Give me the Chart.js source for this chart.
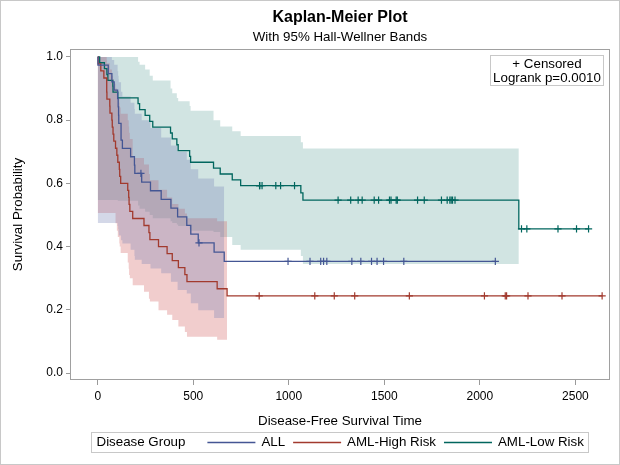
<!DOCTYPE html>
<html>
<head>
<meta charset="utf-8">
<title>Kaplan-Meier Plot</title>
<script src="https://cdn.jsdelivr.net/npm/chart.js@4.4.0/dist/chart.umd.min.js"></script>
<style>
  html, body { margin: 0; padding: 0; background: #fff; }
  canvas { display: block; }
</style>
</head>
<body>
<canvas id="kmChart" width="620" height="465"></canvas>
<script>
// axis ticks
const xTicks = [0, 500, 1000, 1500, 2000, 2500];
const yTicks = [0, 0.2, 0.4, 0.6, 0.8, 1.0];

// ALL: survival steps, censored marks, Hall-Wellner band
const allTimes = [0, 1, 55, 74, 86, 104, 107, 109, 110, 122, 129, 172, 192, 194, 230, 276, 332, 383, 418, 466, 487, 526, 609, 662, 2081];
const allSurv = [1, 0.9737, 0.9474, 0.9211, 0.8947, 0.8684, 0.8421, 0.8158, 0.7895, 0.7368, 0.7105, 0.6842, 0.6579, 0.6316, 0.6041, 0.5767, 0.5492, 0.5217, 0.4943, 0.4668, 0.4394, 0.4119, 0.3825, 0.3531, 0.3531];
const allCensTimes = [226, 530, 996, 1111, 1167, 1182, 1199, 1330, 1377, 1433, 1462, 1496, 1602, 2081];
const allCensSurv = [0.6316, 0.4119, 0.3531, 0.3531, 0.3531, 0.3531, 0.3531, 0.3531, 0.3531, 0.3531, 0.3531, 0.3531, 0.3531, 0.3531];
const allBandTimes = [0, 1, 55, 74, 86, 104, 107, 109, 110, 122, 129, 172, 192, 194, 230, 276, 332, 383, 418, 466, 487, 526, 609, 662];
const allBandLow = [0.475, 0.475, 0.475, 0.475, 0.475, 0.465, 0.455, 0.445, 0.435, 0.42, 0.41, 0.39, 0.37, 0.358, 0.345, 0.331, 0.316, 0.289, 0.263, 0.252, 0.221, 0.199, 0.174, 0.174];
const allBandHigh = [1, 1, 1, 0.99, 0.975, 0.955, 0.94, 0.93, 0.92, 0.89, 0.875, 0.855, 0.835, 0.82, 0.80, 0.775, 0.745, 0.72, 0.70, 0.675, 0.645, 0.615, 0.59, 0.59];

// AML-High Risk
const highTimes = [0, 2, 16, 32, 47, 48, 63, 64, 74, 76, 80, 84, 93, 100, 105, 113, 115, 120, 157, 162, 164, 168, 183, 242, 268, 273, 318, 363, 390, 422, 456, 467, 625, 677, 2640];
const highSurv = [1, 0.9778, 0.9556, 0.9333, 0.8889, 0.8667, 0.8444, 0.8222, 0.8, 0.7778, 0.7556, 0.7333, 0.7111, 0.6889, 0.6667, 0.6444, 0.6222, 0.6, 0.5778, 0.5556, 0.5333, 0.5111, 0.4889, 0.4667, 0.4444, 0.4222, 0.4, 0.3778, 0.3556, 0.3333, 0.3111, 0.2889, 0.2667, 0.2444, 0.2444];
const highCensTimes = [845, 1136, 1238, 1345, 1631, 2024, 2133, 2140, 2252, 2430, 2640];
const highCensSurv = [0.2444, 0.2444, 0.2444, 0.2444, 0.2444, 0.2444, 0.2444, 0.2444, 0.2444, 0.2444, 0.2444];
const highBandTimes = [0, 2, 16, 32, 47, 48, 63, 64, 74, 76, 80, 84, 93, 100, 105, 113, 115, 120, 157, 162, 164, 168, 183, 242, 268, 273, 318, 363, 390, 422, 456, 467, 625, 677];
const highBandLow = [0.506, 0.506, 0.506, 0.506, 0.506, 0.506, 0.506, 0.506, 0.506, 0.506, 0.506, 0.506, 0.474, 0.45, 0.43, 0.41, 0.40, 0.38, 0.35, 0.33, 0.31, 0.30, 0.278, 0.257, 0.235, 0.226, 0.199, 0.184, 0.168, 0.147, 0.13, 0.115, 0.105, 0.095];
const highBandHigh = [1, 1, 1, 1, 0.99, 0.98, 0.97, 0.96, 0.95, 0.94, 0.93, 0.915, 0.9, 0.885, 0.87, 0.855, 0.84, 0.82, 0.80, 0.78, 0.76, 0.74, 0.68, 0.66, 0.63, 0.61, 0.58, 0.555, 0.535, 0.52, 0.505, 0.49, 0.48, 0.47];

// AML-Low Risk
const lowTimes = [0, 10, 35, 48, 53, 79, 80, 105, 211, 219, 248, 272, 288, 381, 390, 414, 421, 481, 486, 606, 641, 704, 748, 1063, 1074, 2204, 2569];
const lowSurv = [1, 0.9815, 0.963, 0.9444, 0.9259, 0.9074, 0.8889, 0.8704, 0.8519, 0.8333, 0.8148, 0.7963, 0.7778, 0.7593, 0.7407, 0.7222, 0.7037, 0.6852, 0.6667, 0.6481, 0.6296, 0.6111, 0.5926, 0.5698, 0.547, 0.4558, 0.4558];
const lowCensTimes = [847, 848, 860, 932, 957, 1030, 1258, 1324, 1363, 1384, 1447, 1470, 1527, 1535, 1562, 1568, 1674, 1709, 1799, 1829, 1843, 1850, 1857, 1870, 2218, 2246, 2409, 2506, 2569];
const lowCensSurv = [0.5926, 0.5926, 0.5926, 0.5926, 0.5926, 0.5926, 0.547, 0.547, 0.547, 0.547, 0.547, 0.547, 0.547, 0.547, 0.547, 0.547, 0.547, 0.547, 0.547, 0.547, 0.547, 0.547, 0.547, 0.547, 0.4558, 0.4558, 0.4558, 0.4558, 0.4558];
const lowBandTimes = [0, 10, 35, 48, 53, 79, 80, 105, 211, 219, 248, 272, 288, 381, 390, 414, 421, 481, 486, 606, 641, 704, 748, 1063, 1074, 2204];
const lowBandLow = [0.547, 0.547, 0.547, 0.547, 0.547, 0.547, 0.547, 0.545, 0.53, 0.52, 0.51, 0.50, 0.49, 0.48, 0.475, 0.47, 0.465, 0.455, 0.45, 0.446, 0.43, 0.405, 0.39, 0.37, 0.345, 0.345];
const lowBandHigh = [1, 1, 1, 1, 1, 1, 1, 1, 0.985, 0.975, 0.96, 0.94, 0.925, 0.90, 0.885, 0.87, 0.86, 0.845, 0.83, 0.80, 0.78, 0.765, 0.75, 0.73, 0.71, 0.71];

const groups = ['ALL', 'AML-High Risk', 'AML-Low Risk'];
const lineColors = ['#445694', '#A23A2E', '#01665E'];
const bandColors = ['rgba(111,126,179,0.3)', 'rgba(208,91,91,0.3)', 'rgba(102,165,160,0.3)'];

Chart.defaults.font.family = '"Liberation Sans", Arial, Helvetica, sans-serif';

const pts = (xs, ys) => xs.map((x, i) => ({ x: x, y: ys[i] }));

function bandSets(times, lo, hi, color) {
    const common = { stepped: 'before', pointRadius: 0, borderWidth: 1, borderColor: 'rgba(0,0,0,0)', order: 3 };
    return [
        Object.assign({ data: pts(times, hi), fill: false }, common),
        Object.assign({ data: pts(times, lo), fill: '-1', backgroundColor: color }, common)
    ];
}

function curveSet(times, surv, color) {
    return { data: pts(times, surv), stepped: 'before', borderColor: color, borderWidth: 1.3, pointRadius: 0, fill: false, order: 1 };
}

function censSet(times, surv, color) {
    return { data: pts(times, surv), showLine: false, pointStyle: 'cross', pointRadius: 3.6,
             pointBorderColor: color, pointBorderWidth: 1.2, pointBackgroundColor: color, order: 0 };
}

const datasets = [].concat(
    bandSets(allBandTimes, allBandLow, allBandHigh, bandColors[0]),
    bandSets(highBandTimes, highBandLow, highBandHigh, bandColors[1]),
    bandSets(lowBandTimes, lowBandLow, lowBandHigh, bandColors[2]),
    [curveSet(allTimes, allSurv, lineColors[0]),
     curveSet(highTimes, highSurv, lineColors[1]),
     curveSet(lowTimes, lowSurv, lineColors[2]),
     censSet(allCensTimes, allCensSurv, lineColors[0]),
     censSet(highCensTimes, highCensSurv, lineColors[1]),
     censSet(lowCensTimes, lowCensSurv, lineColors[2])]
);

// titles, frame, inset box and group legend
const decorations = {
    id: 'decorations',
    afterDraw(chart) {
        const ctx = chart.ctx;
        const ca = chart.chartArea;
        const cx = (ca.left + ca.right) / 2;
        ctx.save();

        // outer border
        ctx.strokeStyle = '#c8c8c8';
        ctx.lineWidth = 1;
        ctx.strokeRect(0.5, 0.5, chart.width - 1, chart.height - 1);

        // plot frame
        ctx.strokeStyle = '#a0a0a0';
        ctx.strokeRect(Math.round(ca.left) - 0.5, Math.round(ca.top) + 0.5,
                       Math.round(ca.right - ca.left) + 1, Math.round(ca.bottom - ca.top) - 1);

        // titles
        ctx.fillStyle = '#000';
        ctx.textAlign = 'center';
        ctx.textBaseline = 'middle';
        ctx.font = 'bold 16px "Liberation Sans", Arial, sans-serif';
        ctx.fillText('Kaplan-Meier Plot', cx, 18);
        ctx.font = '13.33px "Liberation Sans", Arial, sans-serif';
        ctx.fillText('With 95% Hall-Wellner Bands', cx, 37);

        // inset
        ctx.fillStyle = '#fff';
        ctx.fillRect(490.5, 55.5, 113, 30);
        ctx.strokeStyle = '#c8c8c8';
        ctx.strokeRect(490.5, 55.5, 113, 30);
        ctx.fillStyle = '#000';
        ctx.fillText('+ Censored', 547, 64);
        ctx.fillText('Logrank p=0.0010', 547, 78);

        // legend
        ctx.font = '13.33px "Liberation Sans", Arial, sans-serif';
        const titleW = ctx.measureText('Disease Group').width;
        const itemW = groups.map(g => 48 + 6 + ctx.measureText(g).width);
        const total = 5 + titleW + 22 + itemW.reduce((a, b) => a + b, 0) + 8 * (groups.length - 1) + 5;
        const left = Math.round(cx - total / 2) + 0.5;
        const top = 432.5, h = 20, mid = top + h / 2;
        ctx.strokeStyle = '#c8c8c8';
        ctx.strokeRect(left, top, Math.round(total), h);
        ctx.textAlign = 'left';
        let x = left + 5;
        ctx.fillText('Disease Group', x, mid);
        x += titleW + 22;
        groups.forEach((g, i) => {
            ctx.strokeStyle = lineColors[i];
            ctx.lineWidth = 1.3;
            ctx.beginPath();
            ctx.moveTo(x, mid);
            ctx.lineTo(x + 48, mid);
            ctx.stroke();
            ctx.fillText(g, x + 54, mid);
            x += itemW[i] + 8;
        });
        ctx.restore();
    }
};

new Chart(document.getElementById('kmChart'), {
    type: 'line',
    data: { datasets: datasets },
    options: {
        responsive: false,
        animation: false,
        devicePixelRatio: 1,
        events: [],
        layout: { padding: { top: 49, right: 11, left: 0, bottom: 0 } },
        plugins: {
            legend: { display: false },
            tooltip: { enabled: false },
            filler: { propagate: false }
        },
        scales: {
            x: {
                type: 'linear',
                min: -140,
                max: 2676,
                afterBuildTicks: s => { s.ticks = xTicks.map(v => ({ value: v })); },
                afterFit: s => { s.height = 85; },
                grid: { drawOnChartArea: false, drawTicks: true, tickLength: 5, color: '#9a9a9a' },
                border: { display: false },
                ticks: { font: { size: 12 }, color: '#000', padding: 4, maxRotation: 0, callback: v => String(v) },
                title: { display: true, text: 'Disease-Free Survival Time', color: '#000',
                         font: { size: 13.33 }, padding: { top: 4, bottom: 35.5 } }
            },
            y: {
                type: 'linear',
                min: -0.022,
                max: 1.025,
                afterBuildTicks: s => { s.ticks = yTicks.map(v => ({ value: v })); },
                afterFit: s => { s.width = 71; },
                grid: { drawOnChartArea: false, drawTicks: true, tickLength: 5, color: '#9a9a9a' },
                border: { display: false },
                ticks: { font: { size: 12 }, color: '#000', padding: 3, callback: v => v.toFixed(1) },
                title: { display: true, text: 'Survival Probability', color: '#000',
                         font: { size: 13.33 }, padding: { top: 10, bottom: 0 } }
            }
        }
    },
    plugins: [decorations]
});
</script>
</body>
</html>
